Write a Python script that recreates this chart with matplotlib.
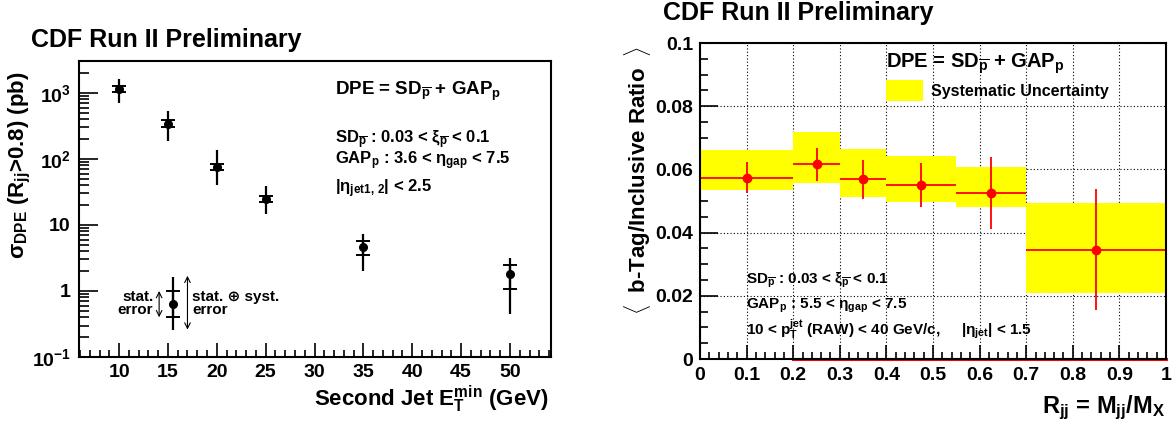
import matplotlib
matplotlib.use('Agg')
import matplotlib.pyplot as plt
import numpy as np
from matplotlib.ticker import MultipleLocator, LogLocator, NullFormatter, FixedLocator, FixedFormatter
from matplotlib.patches import Patch

plt.rcParams['font.family'] = ['Liberation Sans', 'DejaVu Sans']
plt.rcParams['font.weight'] = 'bold'
plt.rcParams['mathtext.fontset'] = 'custom'
plt.rcParams['mathtext.rm'] = 'Liberation Sans:bold'
plt.rcParams['mathtext.it'] = 'Liberation Sans:bold'
plt.rcParams['mathtext.bf'] = 'Liberation Sans:bold'
plt.rcParams['mathtext.sf'] = 'Liberation Sans:bold'
plt.rcParams['mathtext.default'] = 'rm'

# left panel: DPE cross section vs second jet E_T^min
et_min = [10, 15, 20, 25, 35, 50]
sigma = [1150, 343, 76, 24.8, 4.6, 1.79]
stat_up = [1280, 385, 85, 27.6, 5.7, 2.46]
stat_lo = [1030, 305, 68, 22.2, 3.5, 1.09]
tot_up = [1610, 534, 137, 39, 7.4, 3.17]
tot_lo = [708, 187, 41, 14.5, 2.0, 0.45]

# error legend example point
ex_x, ex_y = 15.5, 0.63
ex_stat = (1.0, 0.4)
ex_tot = (1.64, 0.26)
arrow_stat_x, arrow_tot_x = 14.1, 17.0
arrow_tot = (1.7, 0.26)

log_ticks = [0.1, 1, 10, 100, 1000]
log_labels = [r'$10^{-1}$', '1', '10', r'$10^{2}$', r'$10^{3}$']

# right panel: b-tag / inclusive ratio vs R_jj
bin_edges = [0, 0.2, 0.3, 0.4, 0.55, 0.7, 1.0]
rjj = [0.1, 0.25, 0.35, 0.475, 0.625, 0.85]
ratio = [0.0574, 0.0616, 0.0569, 0.0551, 0.0524, 0.0346]
ratio_hi = [0.0622, 0.0667, 0.0630, 0.0619, 0.0638, 0.0538]
ratio_lo = [0.0526, 0.0564, 0.0507, 0.0481, 0.0410, 0.0155]
syst_hi = [0.0661, 0.0719, 0.0665, 0.0643, 0.0609, 0.0495]
syst_lo = [0.0535, 0.0558, 0.0514, 0.0498, 0.0482, 0.0208]

fig = plt.figure(figsize=(11.75, 4.23), dpi=100)

# ---------- left ----------
ax1 = fig.add_axes([79/1175, 66/423, 472/1175, 296/423])
sig = np.array(sigma)
ax1.errorbar(et_min, sig, yerr=[sig - np.array(tot_lo), np.array(tot_up) - sig],
             fmt='o', color='black', ms=5.5, lw=1.6, capsize=0)
ax1.errorbar(et_min, sig, yerr=[sig - np.array(stat_lo), np.array(stat_up) - sig],
             fmt='none', ecolor='black', lw=1.6, capsize=5, capthick=1.4)
ax1.errorbar([ex_x], [ex_y], yerr=[[ex_y - ex_tot[1]], [ex_tot[0] - ex_y]],
             fmt='o', color='black', ms=5.5, lw=1.6, capsize=0)
ax1.errorbar([ex_x], [ex_y], yerr=[[ex_y - ex_stat[1]], [ex_stat[0] - ex_y]],
             fmt='none', ecolor='black', lw=1.6, capsize=5, capthick=1.4)
ax1.annotate('', xy=(arrow_stat_x, ex_stat[1]), xytext=(arrow_stat_x, ex_stat[0]),
             arrowprops=dict(arrowstyle='<->', lw=0.8, color='black', shrinkA=0, shrinkB=0))
ax1.annotate('', xy=(arrow_tot_x, arrow_tot[1]), xytext=(arrow_tot_x, arrow_tot[0]),
             arrowprops=dict(arrowstyle='<->', lw=0.8, color='black', shrinkA=0, shrinkB=0))
ax1.text(13.5, ex_y * 1.03, 'stat.\nerror', ha='right', va='center', fontsize=11,
         linespacing=0.85)
ax1.text(17.5, ex_y * 1.03, 'stat. \u2295 syst.\nerror', ha='left', va='center', fontsize=11,
         linespacing=0.85)

ax1.set_yscale('log')
ax1.set_xlim(5.9, 54.2)
ax1.set_ylim(0.1, 3050)
ax1.yaxis.set_major_locator(FixedLocator(log_ticks))
ax1.yaxis.set_major_formatter(FixedFormatter(log_labels))
ax1.yaxis.set_minor_locator(LogLocator(base=10, subs=np.arange(2, 10)))
ax1.yaxis.set_minor_formatter(NullFormatter())
ax1.xaxis.set_minor_locator(MultipleLocator(1))
ax1.set_xticks(range(10, 55, 5))
ax1.tick_params(which='both', direction='in', labelsize=14, width=1.2)
ax1.tick_params(axis='y', which='major', length=14, pad=6)
ax1.tick_params(axis='y', which='minor', length=7)
ax1.tick_params(axis='x', which='major', length=10, pad=5)
ax1.tick_params(axis='x', which='minor', length=5)
for s in ax1.spines.values():
    s.set_linewidth(1.5)

ax1.text(0.542, 0.885, r'DPE = SD$_{\overline{p}}$ + GAP$_{p}$', transform=ax1.transAxes,
         fontsize=13.5, va='baseline')
ax1.text(0.542, 0.722, r'SD$_{\overline{p}}$ : 0.03 < $\xi_{\overline{p}}$ < 0.1',
         transform=ax1.transAxes, fontsize=12, va='baseline')
ax1.text(0.542, 0.651, r'GAP$_{p}$ : 3.6 < $\eta_{gap}$ < 7.5',
         transform=ax1.transAxes, fontsize=12, va='baseline')
ax1.text(0.542, 0.558, r'|$\eta_{jet1,\,2}$| < 2.5',
         transform=ax1.transAxes, fontsize=12, va='baseline')

ax1.text(-0.125, 0.649, r'$\sigma_{DPE}$ (R$_{jj}$>0.8) (pb)', transform=ax1.transAxes,
         rotation=90, ha='center', va='center', fontsize=16)
ax1.text(0.994, -0.165, r'Second Jet E$_{T}^{min}$ (GeV)', transform=ax1.transAxes,
         ha='right', va='baseline', fontsize=16)
fig.text(31/1175, 1 - 46.7/423, 'CDF Run II Preliminary', fontsize=18, va='baseline')

# ---------- right ----------
ax2 = fig.add_axes([700/1175, 64/423, 466/1175, 316/423])
edges = np.array(bin_edges)
lo = np.array(syst_lo)
hi = np.array(syst_hi)
ax2.bar(edges[:-1], hi - lo, width=np.diff(edges), bottom=lo, align='edge',
        color='#ffff00', edgecolor='none', zorder=2)
r = np.array(ratio)
x = np.array(rjj)
ax2.errorbar(x, r, xerr=[x - edges[:-1], edges[1:] - x],
             yerr=[r - np.array(ratio_lo), np.array(ratio_hi) - r],
             fmt='o', color='#ff0000', ms=6, lw=1.3, capsize=0, zorder=3)
ax2.plot([edges[1], edges[-1]], [0, 0], color='#ff0000', lw=2.2, zorder=4, clip_on=False)

ax2.set_xlim(0, 1)
ax2.set_ylim(0, 0.1)
ax2.set_xticks(np.arange(0, 1.01, 0.1))
ax2.set_xticklabels(['0', '0.1', '0.2', '0.3', '0.4', '0.5', '0.6', '0.7', '0.8', '0.9', '1'])
ax2.set_yticks([0, 0.02, 0.04, 0.06, 0.08, 0.1])
ax2.set_yticklabels(['0', '0.02', '0.04', '0.06', '0.08', '0.1'])
ax2.xaxis.set_minor_locator(MultipleLocator(0.02))
ax2.yaxis.set_minor_locator(MultipleLocator(0.005))
ax2.grid(True, which='major', linestyle=(0, (1, 2)), color='black', lw=0.8, zorder=1)
ax2.set_axisbelow(True)
ax2.tick_params(which='both', direction='in', labelsize=14, width=1.2)
ax2.tick_params(axis='y', which='major', length=13, pad=5)
ax2.tick_params(axis='y', which='minor', length=6)
ax2.tick_params(axis='x', which='major', length=10, pad=6)
ax2.tick_params(axis='x', which='minor', length=5)
for s in ax2.spines.values():
    s.set_linewidth(1.5)
    s.set_zorder(5)

ax2.text(0.399, 0.92, r'DPE = SD$_{\overline{p}}$ + GAP$_{p}$', transform=ax2.transAxes,
         fontsize=14.5, va='baseline', zorder=6)
ax2.legend(handles=[Patch(facecolor='#ffff00', edgecolor='none')], labels=['Systematic Uncertainty'],
           loc='upper left', bbox_to_anchor=(0.399, 0.882), frameon=False, fontsize=11.5,
           handlelength=2.3, handleheight=1.6, handletextpad=0.55, borderpad=0, borderaxespad=0)

ax2.text(0.099, 0.24, r'SD$_{\overline{p}}$ : 0.03 < $\xi_{\overline{p}}$ < 0.1',
         transform=ax2.transAxes, fontsize=11, va='baseline', zorder=6)
ax2.text(0.099, 0.16, r'GAP$_{p}$ : 5.5 < $\eta_{gap}$ < 7.5',
         transform=ax2.transAxes, fontsize=11, va='baseline', zorder=6)
ax2.text(0.099, 0.076, r'10 < p$_{T}^{jet}$ (RAW) < 40 GeV/c,',
         transform=ax2.transAxes, fontsize=11, va='baseline', zorder=6)
ax2.text(0.56, 0.076, r'|$\eta_{jet}$| < 1.5',
         transform=ax2.transAxes, fontsize=11, va='baseline', zorder=6)

ax2.text(-0.135, 0.565, r'$\langle$  b-Tag/Inclusive Ratio  $\rangle$', transform=ax2.transAxes,
         rotation=90, ha='center', va='center', fontsize=16)
ax2.text(0.998, -0.171, r'R$_{jj}$ = M$_{jj}$/M$_{X}$', transform=ax2.transAxes,
         ha='right', va='baseline', fontsize=17)
fig.text(663/1175, 1 - 20/423, 'CDF Run II Preliminary', fontsize=18, va='baseline')

fig.savefig('out.png', dpi=100)
